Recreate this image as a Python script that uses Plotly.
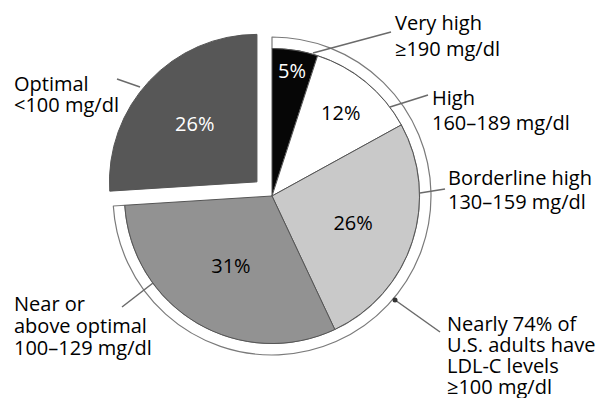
import plotly.graph_objects as go

W, H = 601, 398

# ---- data ----
categories = ["Very high", "High", "Borderline high", "Near or above optimal", "Optimal"]
values = [5, 12, 26, 31, 26]
ring_categories = ["LDL-C ≥100 mg/dl", "LDL-C <100 mg/dl"]
ring_values = [74, 26]

label_lines = [
    ["Very high", "≥190 mg/dl"],
    ["High", "160–189 mg/dl"],
    ["Borderline high", "130–159 mg/dl"],
    ["Optimal", "<100 mg/dl"],
    ["Near or", "above optimal", "100–129 mg/dl"],
    ["Nearly 74% of", "U.S. adults have", "LDL-C levels", "≥100 mg/dl"],
]

# ---- styles / layout ----
slice_colors = ["#060606", "#ffffff", "#c9c9c9", "#929292", "#575757"]
pct_colors = ["white", "black", "black", "black", "white"]
pulls = [0, 0, 0, 0, 0.14]
FONT = "Open Sans"
FS = 20
WEIGHT = 400

cx, cy = 272, 196          # pie centre (px)
R = 147.5                  # pie radius (px)
R_RING = 159               # outer radius of the ring (px)

# label placement: (x_left, first line centre y, line spacing) in px
label_pos = [
    (393, 22.5, 26),
    (430, 97, 25),
    (446, 177, 24),
    (12, 83.5, 21),
    (12, 303.5, 22),
    (445, 323, 21.3),
]
# leader lines in px: (x0, y0, x1, y1)
leaders = [
    (313, 53, 391, 32),
    (390, 107, 428, 95),
    (420, 193, 445, 189),
    (117, 79, 140, 87),
    (122, 307, 153, 283),
    (395, 300, 440, 332),
]
LEADER_COLOR = "#6a6a6a"


def px(x, y):
    return x / W, 1 - y / H


def domain(cxp, cyp, side):
    return dict(x=[(cxp - side / 2) / W, (cxp + side / 2) / W],
                y=[1 - (cyp + side / 2) / H, 1 - (cyp - side / 2) / H])


fig = go.Figure()

# outer ring around the ≥100 mg/dl part
fig.add_trace(go.Pie(
    labels=ring_categories, values=ring_values, sort=False,
    direction="clockwise", rotation=0, hole=R / R_RING,
    domain=domain(cx, cy, 2 * R_RING),
    marker=dict(colors=["#ffffff", "rgba(0,0,0,0)"],
                line=dict(color=["#7a7a7a", "rgba(0,0,0,0)"], width=1.2)),
    textinfo="none", hoverinfo="skip", showlegend=False,
))

maxpull = max(pulls)
fig.add_trace(go.Pie(
    labels=categories, values=values, sort=False,
    direction="clockwise", rotation=0, pull=pulls,
    domain=domain(cx, cy, R * (2 + 2 * maxpull)),
    marker=dict(colors=slice_colors, line=dict(color="#555555", width=1)),
    textinfo="percent", textposition="inside",
    insidetextorientation="horizontal",
    insidetextfont=dict(family=FONT, size=FS, color=pct_colors, weight=WEIGHT),
    showlegend=False,
))

annotations = []
for lines, (lx, ly, dy) in zip(label_lines, label_pos):
    for i, t in enumerate(lines):
        x, y = px(lx, ly + i * dy)
        annotations.append(dict(
            x=x, y=y, xref="paper", yref="paper", text=t, showarrow=False,
            xanchor="left", yanchor="middle",
            font=dict(family=FONT, size=FS, color="black", weight=WEIGHT),
        ))

shapes = []
for (x0, y0, x1, y1) in leaders:
    a0, b0 = px(x0, y0)
    a1, b1 = px(x1, y1)
    shapes.append(dict(type="line", xref="paper", yref="paper",
                       x0=a0, y0=b0, x1=a1, y1=b1,
                       line=dict(color=LEADER_COLOR, width=1.5)))
# dot at the end of the ring leader
dx, dyy = leaders[-1][0], leaders[-1][1]
c0 = px(dx - 2.5, dyy + 2.5)
c1 = px(dx + 2.5, dyy - 2.5)
shapes.append(dict(type="circle", xref="paper", yref="paper",
                   x0=c0[0], y0=c0[1], x1=c1[0], y1=c1[1],
                   fillcolor="#333333", line=dict(width=0)))

fig.update_layout(
    width=W, height=H, margin=dict(l=0, r=0, t=0, b=0),
    paper_bgcolor="white", plot_bgcolor="white",
    annotations=annotations, shapes=shapes,
    font=dict(family=FONT, size=FS, weight=WEIGHT),
)

fig.write_html("out.html")
